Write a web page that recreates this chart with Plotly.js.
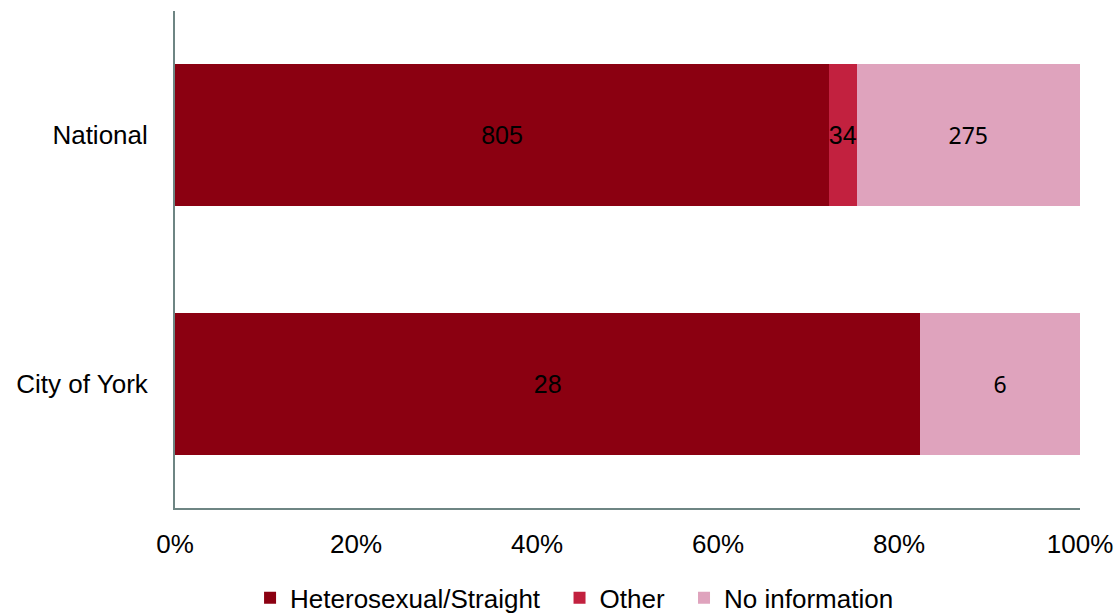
<!DOCTYPE html>
<html>
<head>
<meta charset="utf-8">
<script src="https://cdn.plot.ly/plotly-3.0.1.min.js"></script>
<style>html,body{margin:0;padding:0;background:#fff;}#chart{width:1120px;height:615px;}</style>
</head>
<body>
<div id="chart"></div>
<script>
const categories = ['City of York', 'National'];
const seriesNames = ['Heterosexual/Straight', 'Other', 'No information'];
const heterosexual = [28, 805];
const other = [0, 34];
const noInformation = [6, 275];
const colors = ['#8B0011', '#C2213F', '#DFA3BD'];
const xTicks = [0, 20, 40, 60, 80, 100];

const seriesValues = [heterosexual, other, noInformation];
const labelFonts = [
  {family: 'Liberation Sans, Arial, sans-serif', size: 25, color: '#000'},
  {family: 'Liberation Sans, Arial, sans-serif', size: 25, color: '#000'},
  {family: 'Noto Sans, sans-serif', size: 23, color: '#000'}
];
// extra non-breaking space after legend names widens the gap between entries
const legendPad = ['\u00a0\u00a0', '\u00a0\u00a0', ''];
const traces = seriesValues.map((vals, i) => ({
  type: 'bar',
  orientation: 'h',
  name: seriesNames[i] + legendPad[i],
  y: categories,
  x: vals,
  text: vals.map(v => v === 0 ? '' : String(v)),
  textposition: 'inside',
  insidetextanchor: 'middle',
  textangle: 0,
  constraintext: 'none',
  textfont: labelFonts[i],
  marker: {color: colors[i], line: {width: 0}},
  hoverinfo: 'none'
}));

const layout = {
  width: 1120, height: 615,
  margin: {l: 175, r: 40, t: 11, b: 107},
  paper_bgcolor: '#fff', plot_bgcolor: '#fff',
  barmode: 'stack', barnorm: 'percent',
  bargap: 0.43,
  font: {family: 'Liberation Sans, Arial, sans-serif', size: 26, color: '#000'},
  xaxis: {
    range: [0, 100], tickvals: xTicks, ticktext: xTicks.map(t => t + '%'),
    showgrid: false, zeroline: false, showline: true, linecolor: '#6E8583', linewidth: 2,
    ticks: '', ticklabelstandoff: 12, tickfont: {size: 26, color: '#000'}, fixedrange: true
  },
  yaxis: {
    showgrid: false, zeroline: false, showline: true, linecolor: '#6E8583', linewidth: 2,
    ticks: '', ticklabelstandoff: 20, tickfont: {size: 26, color: '#000'}, fixedrange: true
  },
  showlegend: true,
  legend: {
    orientation: 'h', x: 0.513, xref: 'container', xanchor: 'center',
    y: 0.028, yref: 'container', yanchor: 'middle',
    font: {size: 26, color: '#000'}, tracegroupgap: 0,
    traceorder: 'normal'
  }
};

Plotly.newPlot('chart', traces, layout, {displayModeBar: false, staticPlot: true});
</script>
</body>
</html>
